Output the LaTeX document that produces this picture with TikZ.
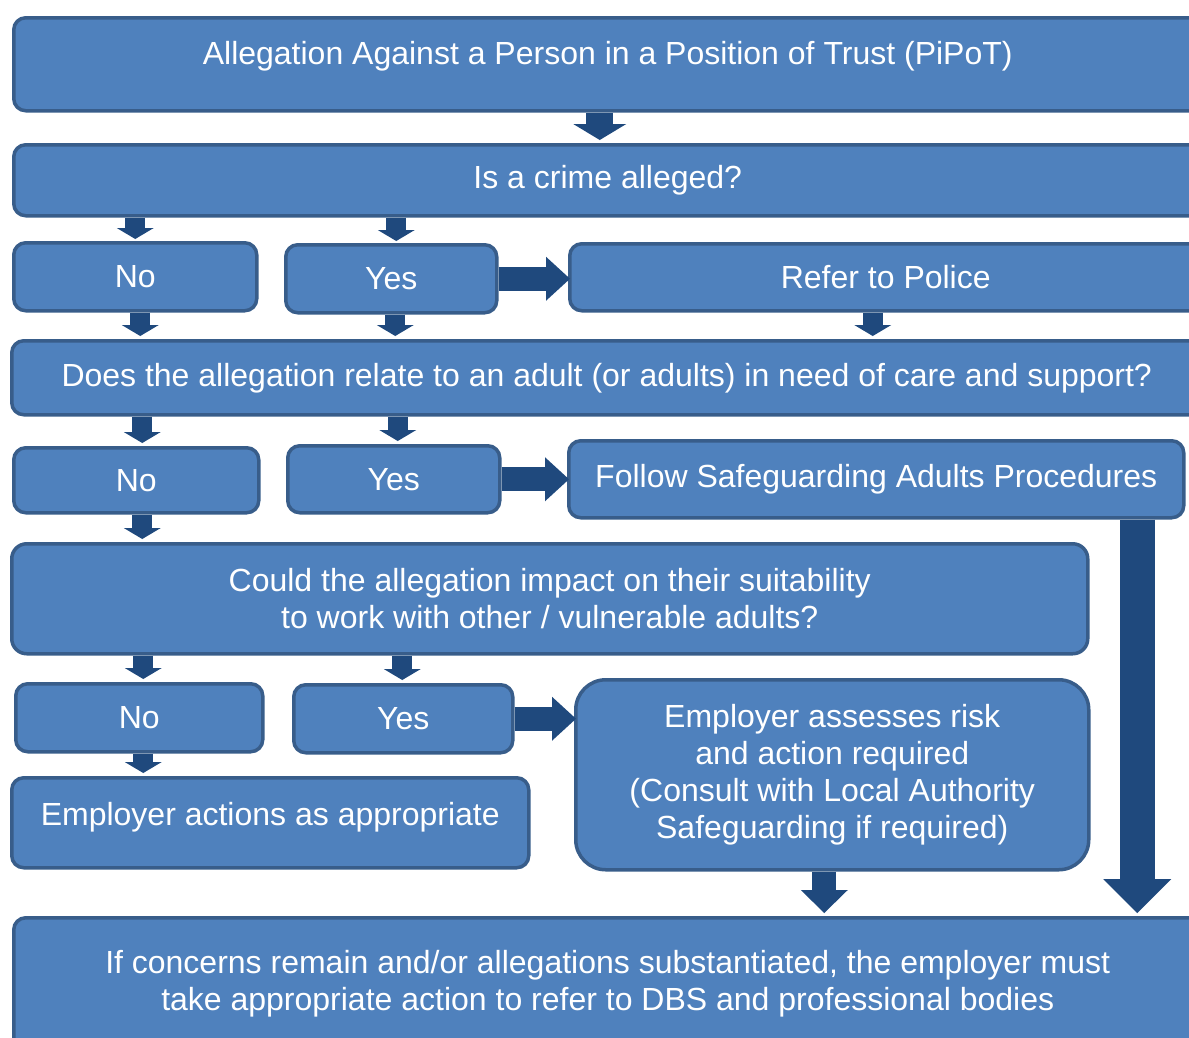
\documentclass[tikz,border=0pt]{standalone}
\usepackage{fontspec}
\setmainfont{Liberation Sans}
\usetikzlibrary{arrows.meta}

\definecolor{boxfill}{HTML}{4F81BD}
\definecolor{boxline}{HTML}{385D8A}
\definecolor{arrowblue}{HTML}{1F497D}

\begin{document}
\begin{tikzpicture}[x=1pt, y=-1pt,
    box/.style={draw=boxline, fill=boxfill, line width=3.5pt, rounded corners=12pt,
      text=white, align=center, inner sep=0pt, anchor=north west,
      font=\fontsize{32}{37}\selectfont},
    downarrow/.style={draw=arrowblue, line width=20pt,
      -{Triangle[line width=0pt, length=11pt, width=37pt]}},
    toparrow/.style={draw=arrowblue, line width=27pt,
      -{Triangle[line width=0pt, length=16pt, width=53pt]}},
    rightarrow/.style={draw=arrowblue, line width=24pt,
      -{Triangle[line width=0pt, length=24pt, width=44pt]}},
    bigarrow/.style={draw=arrowblue, line width=35pt,
      -{Triangle[line width=0pt, length=34pt, width=68pt]}}]
  \useasboundingbox (0,0) rectangle (1189,1037);
  %\draw[step=50,gray,very thin] (0,0) grid (1189,1037);

  \node[box, minimum width=1188pt, minimum height=93pt, text depth=22pt] (pipot) at (12,16)
    {Allegation Against a Person in a Position of Trust (PiPoT)};
  \node[box, minimum width=1188pt, minimum height=71pt] (crime) at (12,143) {Is a crime alleged?};
  \node[box, minimum width=243pt, minimum height=68pt] (noA) at (12,241) {No};
  \node[box, minimum width=211pt, minimum height=68pt] (yesA) at (284,243) {Yes};
  \node[box, minimum width=632pt, minimum height=67pt] (police) at (568,242) {Refer to Police};
  \node[box, minimum width=1190pt, minimum height=74pt] (adult) at (10,339)
    {Does the allegation relate to an adult (or adults) in need of care and support?};
  \node[box, minimum width=245pt, minimum height=65pt] (noB) at (12,446) {No};
  \node[box, minimum width=212pt, minimum height=67pt] (yesB) at (286,444) {Yes};
  \node[box, minimum width=615pt, minimum height=77pt] (follow) at (567,439)
    {Follow Safeguarding Adults Procedures};
  \node[box, minimum width=1076pt, minimum height=110pt, rounded corners=15pt] (impact) at (10,542)
    {Could the allegation impact on their suitability\\to work with other / vulnerable adults?};
  \node[box, minimum width=247pt, minimum height=68pt] (noC) at (14,682) {No};
  \node[box, minimum width=219pt, minimum height=68pt] (yesC) at (292,683) {Yes};
  \node[box, minimum width=513pt, minimum height=190pt, rounded corners=30pt] (assess) at (574,678)
    {Employer assesses risk\\and action required\\(Consult with Local Authority\\Safeguarding if required)};
  \node[box, minimum width=517pt, minimum height=90pt, text depth=18pt] (actions) at (10,776)
    {Employer actions as appropriate};
  \node[box, minimum width=1188pt, minimum height=140pt, text depth=14pt] (final) at (12,916)
    {If concerns remain and/or allegations substantiated, the employer must\\take appropriate action to refer to DBS and professional bodies};

  \draw[toparrow] ([xshift=-8pt]pipot.south) -- ([xshift=-8pt,yshift=3pt]crime.north);
  \draw[downarrow] (noA.north |- crime.south) -- ([yshift=2pt]noA.north);
  \draw[downarrow] ([xshift=5pt]yesA.north |- crime.south) -- ([xshift=5pt,yshift=2pt]yesA.north);
  \draw[rightarrow] (yesA.east) -- ([xshift=2pt]yesA.east -| police.west);
  \draw[downarrow] ([xshift=5pt]noA.south) -- ([xshift=5pt,yshift=3pt]noA.south |- adult.north);
  \draw[downarrow] ([xshift=4pt]yesA.south) -- ([xshift=4pt,yshift=3pt]yesA.south |- adult.north);
  \draw[downarrow] ([xshift=-13pt]police.south) -- ([xshift=-13pt,yshift=3pt]police.south |- adult.north);
  \draw[downarrow] ([xshift=6pt]noB.north |- adult.south) -- ([xshift=6pt,yshift=3pt]noB.north);
  \draw[downarrow] ([xshift=4pt]yesB.north |- adult.south) -- ([xshift=4pt,yshift=3pt]yesB.north);
  \draw[rightarrow] (yesB.east) -- ([xshift=2pt]yesB.east -| follow.west);
  \draw[downarrow] ([xshift=6pt]noB.south) -- ([xshift=6pt,yshift=3pt]noB.south |- impact.north);
  \draw[bigarrow] ([xshift=261pt]follow.south) -- ([xshift=261pt,yshift=3pt]follow.south |- final.north);
  \draw[downarrow] ([xshift=4pt]noC.north |- impact.south) -- ([xshift=4pt,yshift=3pt]noC.north);
  \draw[downarrow] ([xshift=-1pt]yesC.north |- impact.south) -- ([xshift=-1pt,yshift=3pt]yesC.north);
  \draw[rightarrow] (yesC.east) -- ([xshift=2pt]yesC.east -| assess.west);
  \draw[downarrow] ([xshift=4pt]noC.south) -- ([xshift=4pt,yshift=3pt]noC.south |- actions.north);
  \draw[rightarrow, line width=24pt, -{Triangle[line width=0pt, length=23pt, width=47pt]}]
    ([xshift=-8pt]assess.south) -- ([xshift=-8pt,yshift=3pt]assess.south |- final.north);
\end{tikzpicture}
\end{document}
